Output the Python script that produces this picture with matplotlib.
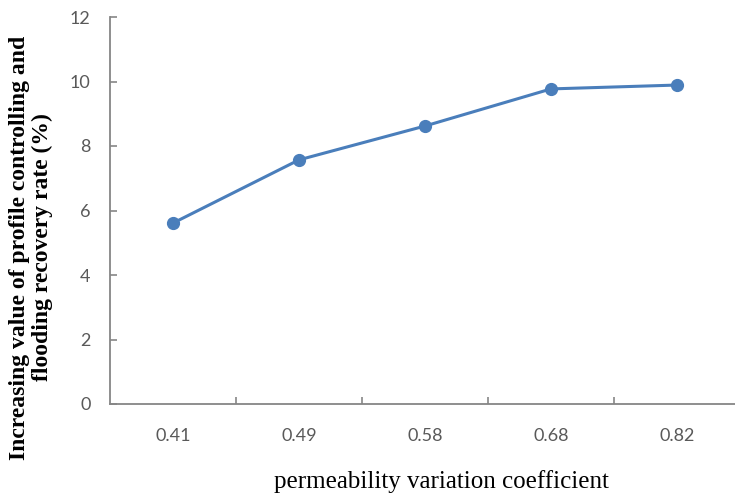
import matplotlib
matplotlib.use("Agg")
import matplotlib.pyplot as plt

# data
categories = ["0.41", "0.49", "0.58", "0.68", "0.82"]
recovery_increase = [5.61, 7.57, 8.62, 9.77, 9.89]
y_ticks = [0, 2, 4, 6, 8, 10, 12]

line_color = "#4A7EBB"
axis_color = "#868686"
label_gray = "#595959"

fig = plt.figure(figsize=(7.35, 4.95), dpi=100)
ax = fig.add_axes([110 / 735, 91 / 495, 630 / 735, 387 / 495])

x = list(range(len(categories)))
ax.plot(x, recovery_increase, color=line_color, linewidth=2.2,
        marker="o", markersize=8.5, markerfacecolor=line_color,
        markeredgecolor=line_color, clip_on=False)

ax.set_xlim(-0.5, len(categories) - 0.5)
ax.set_ylim(0, 12)
ax.set_yticks(y_ticks)
ax.set_yticklabels([str(t) for t in y_ticks])
ax.set_xticks(x)
ax.set_xticklabels(categories)
ax.set_xticks([i + 0.5 for i in range(len(categories) - 1)], minor=True)

for side in ["top", "right"]:
    ax.spines[side].set_visible(False)
for side in ["left", "bottom"]:
    ax.spines[side].set_color(axis_color)
    ax.spines[side].set_linewidth(1.3)

ax.tick_params(axis="y", direction="in", length=5, width=1.2, color=axis_color,
               labelcolor=label_gray, pad=14, labelsize=13)
ax.tick_params(axis="x", which="major", length=0, labelcolor=label_gray,
               pad=17, labelsize=13)
ax.tick_params(axis="x", which="minor", direction="in", length=5, width=1.2,
               color=axis_color)
for lab in ax.get_xticklabels() + ax.get_yticklabels():
    lab.set_fontfamily("Lato")

fig.text(0.042, 0.5,
         "Increasing value of profile controlling and\nflooding recovery rate (%)",
         rotation=90, ha="center", va="center", multialignment="center",
         fontsize=17, fontweight="bold", family="Liberation Serif",
         linespacing=1.08)
fig.text(0.60, 0.028, "permeability variation coefficient",
         ha="center", va="center", fontsize=18, family="Liberation Serif")

fig.savefig("out.png", dpi=100)
